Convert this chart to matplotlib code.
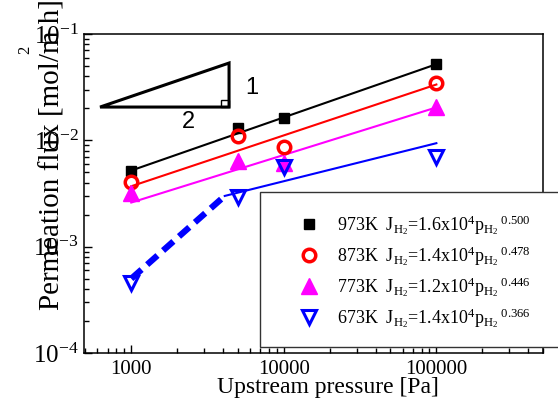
import numpy as np
import matplotlib
matplotlib.use("Agg")
import matplotlib.pyplot as plt
from matplotlib.patches import Rectangle, Polygon

plt.rcParams['font.family'] = ['Liberation Serif', 'DejaVu Serif']
plt.rcParams['mathtext.fontset'] = 'stix'
plt.rcParams['mathtext.default'] = 'regular'

# upstream pressure [Pa]
pressure = [1000, 5000, 10000, 100000]
# measured permeation flux [mol/m2h]
flux_973 = [0.0052, 0.0131, 0.0162, 0.052]
flux_873 = [0.0041, 0.0110, 0.0087, 0.0346]
flux_773 = [0.0032, 0.0064, 0.0061, 0.0206]
flux_673 = [0.00046, 0.0029, 0.0056, 0.0070]

# fitted lines (end points)
fit_p = [1000, 100000]
fit_973 = [0.0052, 0.052]
fit_873 = [0.0037, 0.0335]
fit_773 = [0.0026, 0.0204]
fit_673_p = [4100, 100000]
fit_673 = [0.0030, 0.0094]
dash_p = [1000, 4100]
dash_673 = [0.0005, 0.0030]

labels = [r"973K  J$_{H_2}$=1.6x10$^{4}$p$_{H_2}$$^{\ 0.500}$",
          r"873K  J$_{H_2}$=1.4x10$^{4}$p$_{H_2}$$^{\ 0.478}$",
          r"773K  J$_{H_2}$=1.2x10$^{4}$p$_{H_2}$$^{\ 0.446}$",
          r"673K  J$_{H_2}$=1.4x10$^{4}$p$_{H_2}$$^{\ 0.366}$"]

yticks = [1e-4, 1e-3, 1e-2, 1e-1]
ytick_labels = [r"$10^{-4}$", r"$10^{-3}$", r"$10^{-2}$", r"$10^{-1}$"]
xticks = [1000, 10000, 100000]
xtick_labels = ["1000", "10000", "100000"]

fig = plt.figure(figsize=(5.58, 4.11), dpi=100)
ax = fig.add_axes([84/558, 1-353/411, 459/558, 319/411])
ax.set_xscale('log')
ax.set_yscale('log')
ax.set_xlim(490, 500000)
ax.set_ylim(1e-4, 1e-1)

# fit lines
ax.plot(fit_p, fit_973, color='black', lw=1.5)
ax.plot(fit_p, fit_873, color='red', lw=1.5)
ax.plot(fit_p, fit_773, color='magenta', lw=1.5)
ax.plot(fit_673_p, fit_673, color='blue', lw=1.5)
ax.plot(dash_p, dash_673, color='blue', lw=4.5, dashes=(2.2, 1.2))

# measured points
h1, = ax.plot(pressure, flux_973, ls='none', marker='s', ms=7, color='black')
h2, = ax.plot(pressure, flux_873, ls='none', marker='o', ms=9, mfc='none', mec='red', mew=2.5)
h3, = ax.plot(pressure, flux_773, ls='none', marker='^', ms=11, color='magenta')
h4, = ax.plot(pressure, flux_673, ls='none', marker='v', ms=10, mfc='none', mec='blue', mew=2.2)

# slope triangle
tri = Polygon([[0.035, 0.771], [0.316, 0.909], [0.316, 0.771]], closed=True, fill=False,
              ec='black', lw=2.2, transform=ax.transAxes)
ax.add_patch(tri)
ax.add_patch(Rectangle((0.298, 0.771), 0.018, 0.022, fill=False, ec='black', lw=1,
                       transform=ax.transAxes))
ax.text(0.366, 0.831, '1', transform=ax.transAxes, fontsize=17, family='Liberation Sans',
        ha='center', va='center')
ax.text(0.2266, 0.724, '2', transform=ax.transAxes, fontsize=17, family='Liberation Sans',
        ha='center', va='center')

ax.set_xticks(xticks)
ax.set_xticklabels(xtick_labels, fontsize=15)
ax.set_yticks(yticks)
ax.set_yticklabels(ytick_labels, fontsize=18)
ax.tick_params(which='both', direction='in', top=False, right=False, width=1)
ax.tick_params(which='major', length=6)
ax.tick_params(which='minor', length=3.5)
ax.tick_params(axis='x', pad=5)
ax.tick_params(axis='y', pad=4)
for s in ax.spines.values():
    s.set_linewidth(1.1)

ax.set_xlabel("Upstream pressure [Pa]", fontsize=17, va='baseline')
ax.xaxis.set_label_coords((328-84)/459, (353-393)/319)

fig.text(60/558, 1-310/411, "Permeation flux [mol/m h]", fontsize=21, rotation=90,
         rotation_mode='anchor', ha='left', va='baseline')
fig.text(25/558, 1-50/411, "2", fontsize=12, rotation=90, ha='center', va='center')

# legend box
fig.add_artist(Rectangle((260/558, 1-347/411), 310/558, 155/411, transform=fig.transFigure,
                         fc='white', ec='#333333', lw=1))
fig.legend([h1, h2, h3, h4], labels, loc='upper left', bbox_to_anchor=(300/558, 1-213/411),
           bbox_transform=fig.transFigure, frameon=False, fontsize=13, handlelength=1.0,
           handletextpad=1.05, labelspacing=0.38, borderpad=0, borderaxespad=0)

fig.savefig("out.png", dpi=100)
